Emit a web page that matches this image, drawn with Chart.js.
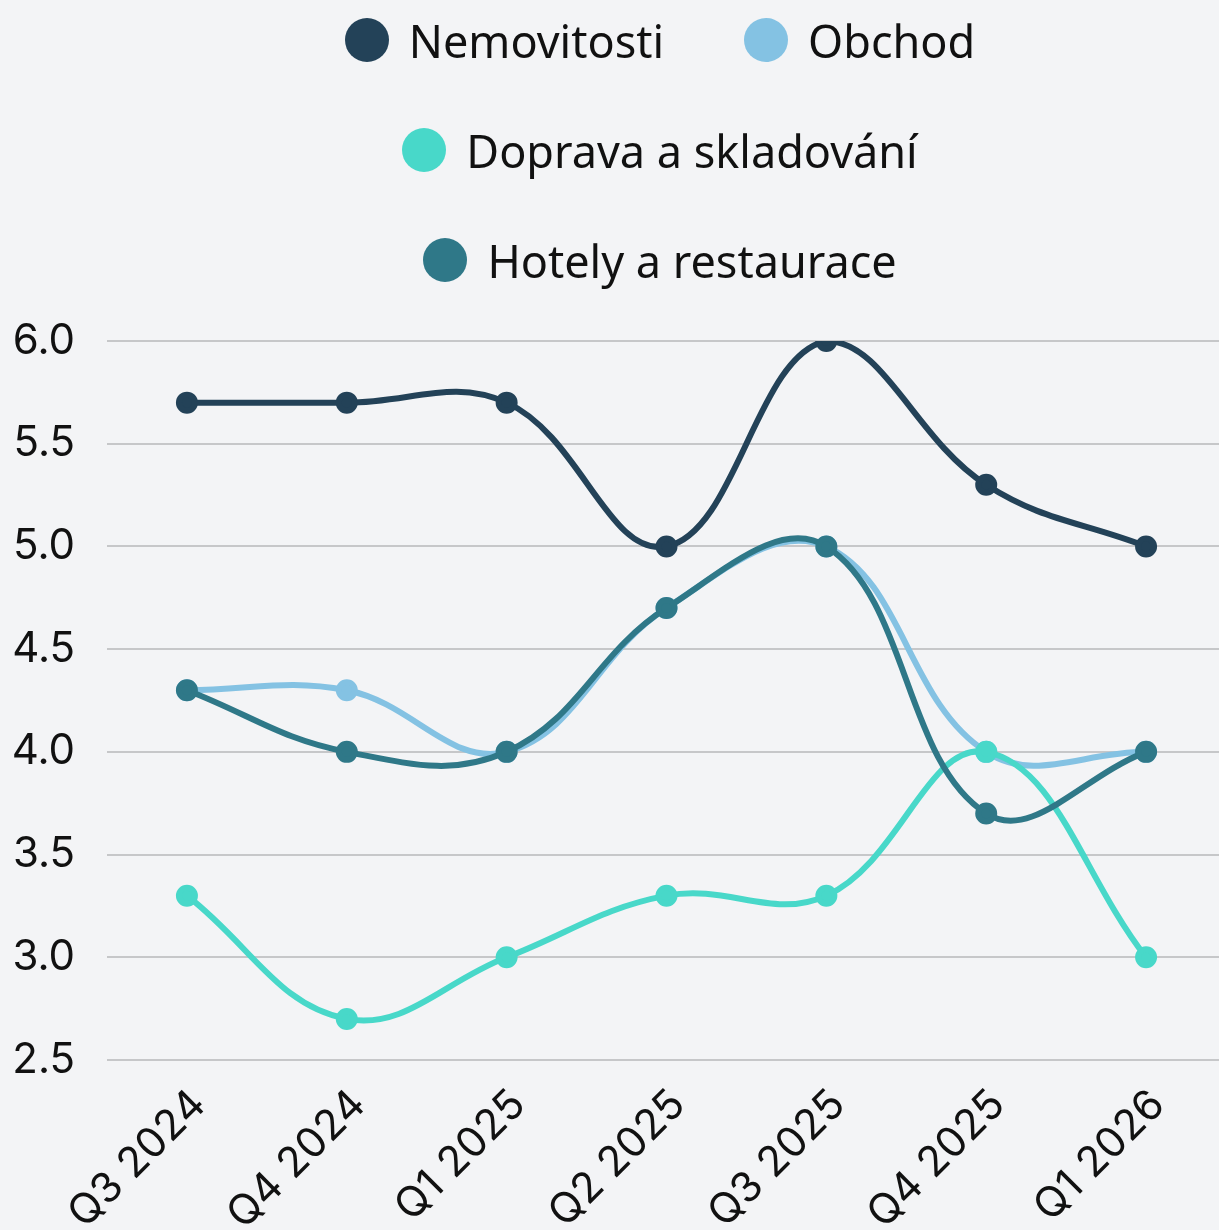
<!DOCTYPE html>
<html lang="cs">
<head>
  <meta charset="UTF-8" />
  <title>Sektory</title>
  <script src="https://cdn.jsdelivr.net/npm/chart.js"></script>
  <style>
    body {
      margin: 0;
      background: #f3f4f6;
      overflow: hidden;
      font-family: "Noto Sans", sans-serif;
    }
    .wrap {
      position: relative;
      width: 1240px;
      height: 1230px;
    }
    #legend {
      position: absolute;
      top: -15px;
      left: 260px;
      width: 800px;
      display: flex;
      flex-wrap: wrap;
      justify-content: center;
      column-gap: 80px;
    }
    .item {
      display: flex;
      align-items: center;
      height: 110px;
      font-size: 45px;
      color: #111;
    }
    .dot {
      width: 44px;
      height: 44px;
      border-radius: 50%;
      margin-right: 20px;
    }
  </style>
</head>
<body>
  <div class="wrap">
    <canvas id="chart" width="1240" height="1230"></canvas>
    <div id="legend"></div>
  </div>

  <script>
    const labels = ['Q3 2024', 'Q4 2024', 'Q1 2025', 'Q2 2025', 'Q3 2025', 'Q4 2025', 'Q1 2026'];
    const seriesNames = ['Nemovitosti', 'Obchod', 'Doprava a skladování', 'Hotely a restaurace'];
    const nemovitosti = [5.7, 5.7, 5.7, 5.0, 6.0, 5.3, 5.0];
    const obchod = [4.3, 4.3, 4.0, 4.7, 5.0, 4.0, 4.0];
    const doprava = [3.3, 2.7, 3.0, 3.3, 3.3, 4.0, 3.0];
    const hotely = [4.3, 4.0, 4.0, 4.7, 5.0, 3.7, 4.0];
    const colors = ['#234258', '#84c2e3', '#48d8c9', '#2f7888'];

    const values = [nemovitosti, obchod, doprava, hotely];
    const datasets = values.map((v, i) => ({
      label: seriesNames[i],
      data: v,
      borderColor: colors[i],
      backgroundColor: colors[i],
      borderWidth: 6,
      pointRadius: 8,
      pointHoverRadius: 8,
      tension: 0.4,
      order: 3 - i
    }));

    const chart = new Chart(document.getElementById('chart'), {
      type: 'line',
      data: { labels: labels, datasets: datasets },
      options: {
        responsive: false,
        animation: false,
        layout: { padding: { top: 341 } },
        plugins: {
          legend: { display: false },
          tooltip: { enabled: false }
        },
        scales: {
          x: {
            offset: true,
            grid: { display: false },
            border: { display: false },
            ticks: {
              color: '#111',
              font: { family: 'Inter', size: 42 },
              minRotation: 45,
              maxRotation: 45,
              padding: 12,
              labelOffset: 12
            },
            afterFit: s => { s.height = 170; }
          },
          y: {
            min: 2.5,
            max: 6.0,
            grid: { color: '#c6c7c9', lineWidth: 2, drawTicks: false },
            border: { display: false },
            ticks: {
              stepSize: 0.5,
              color: '#111',
              font: { family: 'Inter', size: 42 },
              padding: 32,
              callback: v => v.toFixed(1)
            },
            afterFit: s => { s.width = 107; }
          }
        }
      }
    });

    const legend = document.getElementById('legend');
    seriesNames.forEach((name, i) => {
      const item = document.createElement('div');
      item.className = 'item';
      item.innerHTML = '<span class="dot" style="background:' + colors[i] + '"></span>' + name;
      legend.appendChild(item);
    });
  </script>
</body>
</html>
